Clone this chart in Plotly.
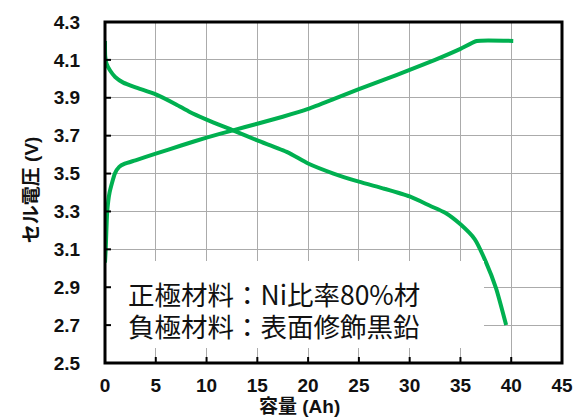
import plotly.graph_objects as go

# Charge curve: capacity (Ah) vs cell voltage (V)
charge_ah = [0, 0.07, 0.22, 0.45, 0.97, 1.4, 1.95, 3, 5, 7.5, 10, 12.6, 15,
             17.5, 20, 22.5, 25, 27.5, 30, 32.5, 35, 36.6, 40.2]
charge_v = [3.03, 3.10, 3.30, 3.40, 3.50, 3.535, 3.552, 3.57, 3.605, 3.648,
            3.69, 3.728, 3.763, 3.80, 3.841, 3.893, 3.946, 3.996, 4.047,
            4.10, 4.158, 4.20, 4.20]

# Discharge curve
discharge_ah = [0, 0.02, 0.15, 0.5, 1.0, 1.8, 3, 5, 7, 8.25, 10, 12.6, 15,
                18, 20, 22.5, 25, 27.5, 30, 32, 33.5, 35, 36.4, 37.5, 38.5,
                39.5]
discharge_v = [4.20, 4.12, 4.08, 4.044, 4.01, 3.98, 3.955, 3.918, 3.865,
               3.828, 3.785, 3.728, 3.675, 3.612, 3.553, 3.50, 3.457, 3.42,
               3.379, 3.33, 3.293, 3.232, 3.154, 3.034, 2.895, 2.70]

x_ticks = [0, 5, 10, 15, 20, 25, 30, 35, 40, 45]
y_ticks = [2.5, 2.7, 2.9, 3.1, 3.3, 3.5, 3.7, 3.9, 4.1, 4.3]

material_lines = ["正極材料：Ni比率80%材", "負極材料：表面修飾黒鉛"]

GREEN = "#00B050"
TICK_FONT = dict(family="Liberation Sans, Arial, sans-serif", size=19,
                 color="#111111", weight="bold")

fig = go.Figure()
fig.add_trace(go.Scatter(x=charge_ah, y=charge_v, mode="lines",
                         line=dict(color=GREEN, width=4, shape="spline",
                                   smoothing=0.5),
                         cliponaxis=False, showlegend=False))
fig.add_trace(go.Scatter(x=discharge_ah, y=discharge_v, mode="lines",
                         line=dict(color=GREEN, width=4, shape="spline",
                                   smoothing=0.6),
                         cliponaxis=False, showlegend=False))

# transparent outside ticks only set the gap between axis and tick labels
axis_common = dict(
    showline=False, showgrid=True, gridcolor="#ababab", gridwidth=1,
    ticks="outside", tickcolor="rgba(0,0,0,0)", zeroline=False,
    tickfont=TICK_FONT,
)

fig.update_xaxes(range=[0, 45], tickvals=x_ticks,
                 ticktext=[str(v) for v in x_ticks], ticklen=5,
                 **axis_common)
fig.update_yaxes(range=[2.5, 4.3], tickvals=y_ticks,
                 ticktext=[f"{v:.1f}" for v in y_ticks], ticklen=20,
                 **axis_common)

# short inward tick marks on the bottom and left edges
for v in x_ticks[1:-1]:
    fig.add_shape(type="line", xref="x", yref="paper", x0=v, x1=v,
                  ysizemode="pixel", yanchor=0, y0=0, y1=6,
                  line=dict(color="black", width=2), layer="above")
for v in y_ticks[1:-1]:
    fig.add_shape(type="line", yref="y", xref="paper", y0=v, y1=v,
                  xsizemode="pixel", xanchor=0, x0=0, x1=6,
                  line=dict(color="black", width=2), layer="above")

# plot frame
fig.add_shape(type="rect", xref="paper", yref="paper", x0=0, x1=1, y0=0,
              y1=1, line=dict(color="black", width=3), layer="above")

# blank white panel that masks the grid behind the material labels
fig.add_annotation(text=" ", xref="paper", yref="paper",
                   x=(111 - 105) / 464, y=(363 - 259) / 347,
                   xanchor="left", yanchor="top", showarrow=False,
                   width=373, height=87, bgcolor="white", borderpad=0,
                   borderwidth=0)

label_font = dict(family="Noto Sans CJK JP", size=26.5, color="#111111")
for i, txt in enumerate(material_lines):
    fig.add_annotation(text=txt, xref="paper", yref="paper",
                       x=(126 - 105) / 464, y=(363 - (292 + 33 * i)) / 347,
                       xanchor="left", yanchor="middle", showarrow=False,
                       font=label_font)

title_font = dict(family="Liberation Sans, Noto Sans CJK JP, sans-serif",
                  size=19, color="#111111", weight="bold")
fig.add_annotation(text="容量 (Ah)", xref="paper", yref="paper",
                   x=(302 - 105) / 464, y=(363 - 407) / 347,
                   xanchor="center", yanchor="middle", showarrow=False,
                   font=title_font)
fig.add_annotation(text="セル電圧 (V)", xref="paper", yref="paper",
                   x=(30 - 105) / 464, y=(363 - 187) / 347,
                   xanchor="center", yanchor="middle", showarrow=False,
                   textangle=-90, font=title_font)

fig.update_layout(
    width=585, height=419,
    margin=dict(l=105, r=16, t=16, b=56),
    paper_bgcolor="white", plot_bgcolor="white",
)

fig.write_html("out.html")
